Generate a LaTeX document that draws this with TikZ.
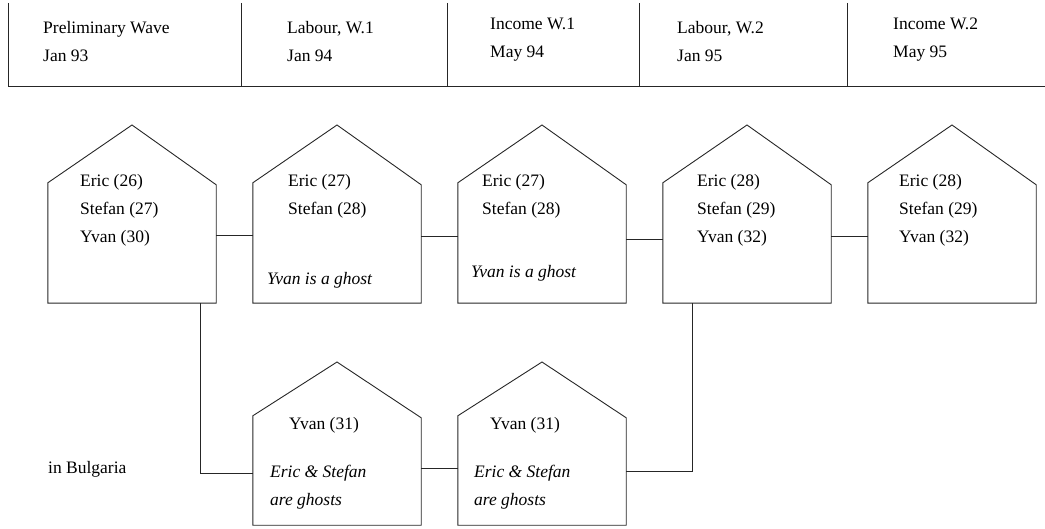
\documentclass[tikz,border=0pt]{standalone}
\usepackage{fontspec}
\setmainfont{Liberation Serif}
\begin{document}
\begin{tikzpicture}[x=1pt,y=-1pt,
  every node/.style={font=\fontsize{17.5}{21}\selectfont, inner sep=0pt},
  lbl/.style={anchor=base west},
  ghost/.style={anchor=base west, font=\fontsize{17.5}{21}\selectfont\itshape},
  rule/.style={line width=0.9pt, draw=black!85},
  link/.style={line width=0.9pt, draw=black!85},
  houseline/.style={line width=0.9pt, draw=black!85},
  housebody/.style={draw=none, rectangle, minimum width=168pt}]
\useasboundingbox (0,0) rectangle (1045,529);

% house: name, left x, peak y, body centre y, body height
\newcommand\drawhouse[5]{%
  \node[housebody, minimum height=#5pt] (#1) at ({#2+84},#4) {};
  \draw[houseline] ([yshift=1pt]#1.north west) -- ({#2+84},#3)
     -- ([yshift=-1pt]#1.north east)
     -- (#1.south east) -- (#1.south west) -- cycle;}

% wave header
\foreach \x in {8,241,447,639,847} \draw[rule] (\x,3) -- (\x,86);
\draw[rule] (8,86) -- (1045,86);
\node[lbl] (w1a) at (43,34) {Preliminary Wave};
\node[lbl] (w1b) at (43,62) {Jan 93};
\node[lbl] (w2a) at (287,34) {Labour, W.1};
\node[lbl] (w2b) at (287,62) {Jan 94};
\node[lbl] (w3a) at (490,30) {Income W.1};
\node[lbl] (w3b) at (490,58) {May 94};
\node[lbl] (w4a) at (677,34) {Labour, W.2};
\node[lbl] (w4b) at (677,62) {Jan 95};
\node[lbl] (w5a) at (893,30) {Income W.2};
\node[lbl] (w5b) at (893,58) {May 95};

% households, one per wave
\drawhouse{h1}{48}{125}{243.5}{119}
\drawhouse{h2}{253}{125}{243.5}{119}
\drawhouse{h3}{458}{125}{243.5}{119}
\drawhouse{h4}{663}{125}{243.5}{119}
\drawhouse{h5}{868}{125}{243.5}{119}
\drawhouse{h6}{253}{362}{471}{108}
\drawhouse{h7}{458}{362}{471}{108}

% members
\node[lbl] (t1a) at (80,187) {Eric (26)};
\node[lbl] (t1b) at (80,215) {Stefan (27)};
\node[lbl] (t1c) at (80,243) {Yvan (30)};
\node[lbl] (t2a) at (288,187) {Eric (27)};
\node[lbl] (t2b) at (288,215) {Stefan (28)};
\node[ghost] (t2g) at (267,285) {Yvan is a ghost};
\node[lbl] (t3a) at (482,187) {Eric (27)};
\node[lbl] (t3b) at (482,215) {Stefan (28)};
\node[ghost] (t3g) at (471,278) {Yvan is a ghost};
\node[lbl] (t4a) at (697,187) {Eric (28)};
\node[lbl] (t4b) at (697,215) {Stefan (29)};
\node[lbl] (t4c) at (697,243) {Yvan (32)};
\node[lbl] (t5a) at (899,187) {Eric (28)};
\node[lbl] (t5b) at (899,215) {Stefan (29)};
\node[lbl] (t5c) at (899,243) {Yvan (32)};
\node[lbl] (t6a) at (289,429) {Yvan (31)};
\node[ghost] (t6g) at (270,477) {Eric \& Stefan};
\node[ghost] (t6h) at (270,505) {are ghosts};
\node[lbl] (t7a) at (490,429) {Yvan (31)};
\node[ghost] (t7g) at (474,477) {Eric \& Stefan};
\node[ghost] (t7h) at (474,505) {are ghosts};
\node[lbl] (bg) at (48,474) {in Bulgaria};

% links between waves
\draw[link] ([yshift=8pt]h1.east) -- ([yshift=8pt]h2.west);
\draw[link] ([yshift=7pt]h2.east) -- ([yshift=7pt]h3.west);
\draw[link] ([yshift=4pt]h3.east) -- ([yshift=4pt]h4.west);
\draw[link] ([yshift=7pt]h4.east) -- ([yshift=7pt]h5.west);
\draw[link] ([xshift=-16pt]h1.south east) |- ([yshift=-2pt]h6.west);
\draw[link] ([yshift=3pt]h6.east) -- ([yshift=3pt]h7.west);
\draw[link] (h7.east) -| ([xshift=30pt]h4.south west);
\end{tikzpicture}
\end{document}
